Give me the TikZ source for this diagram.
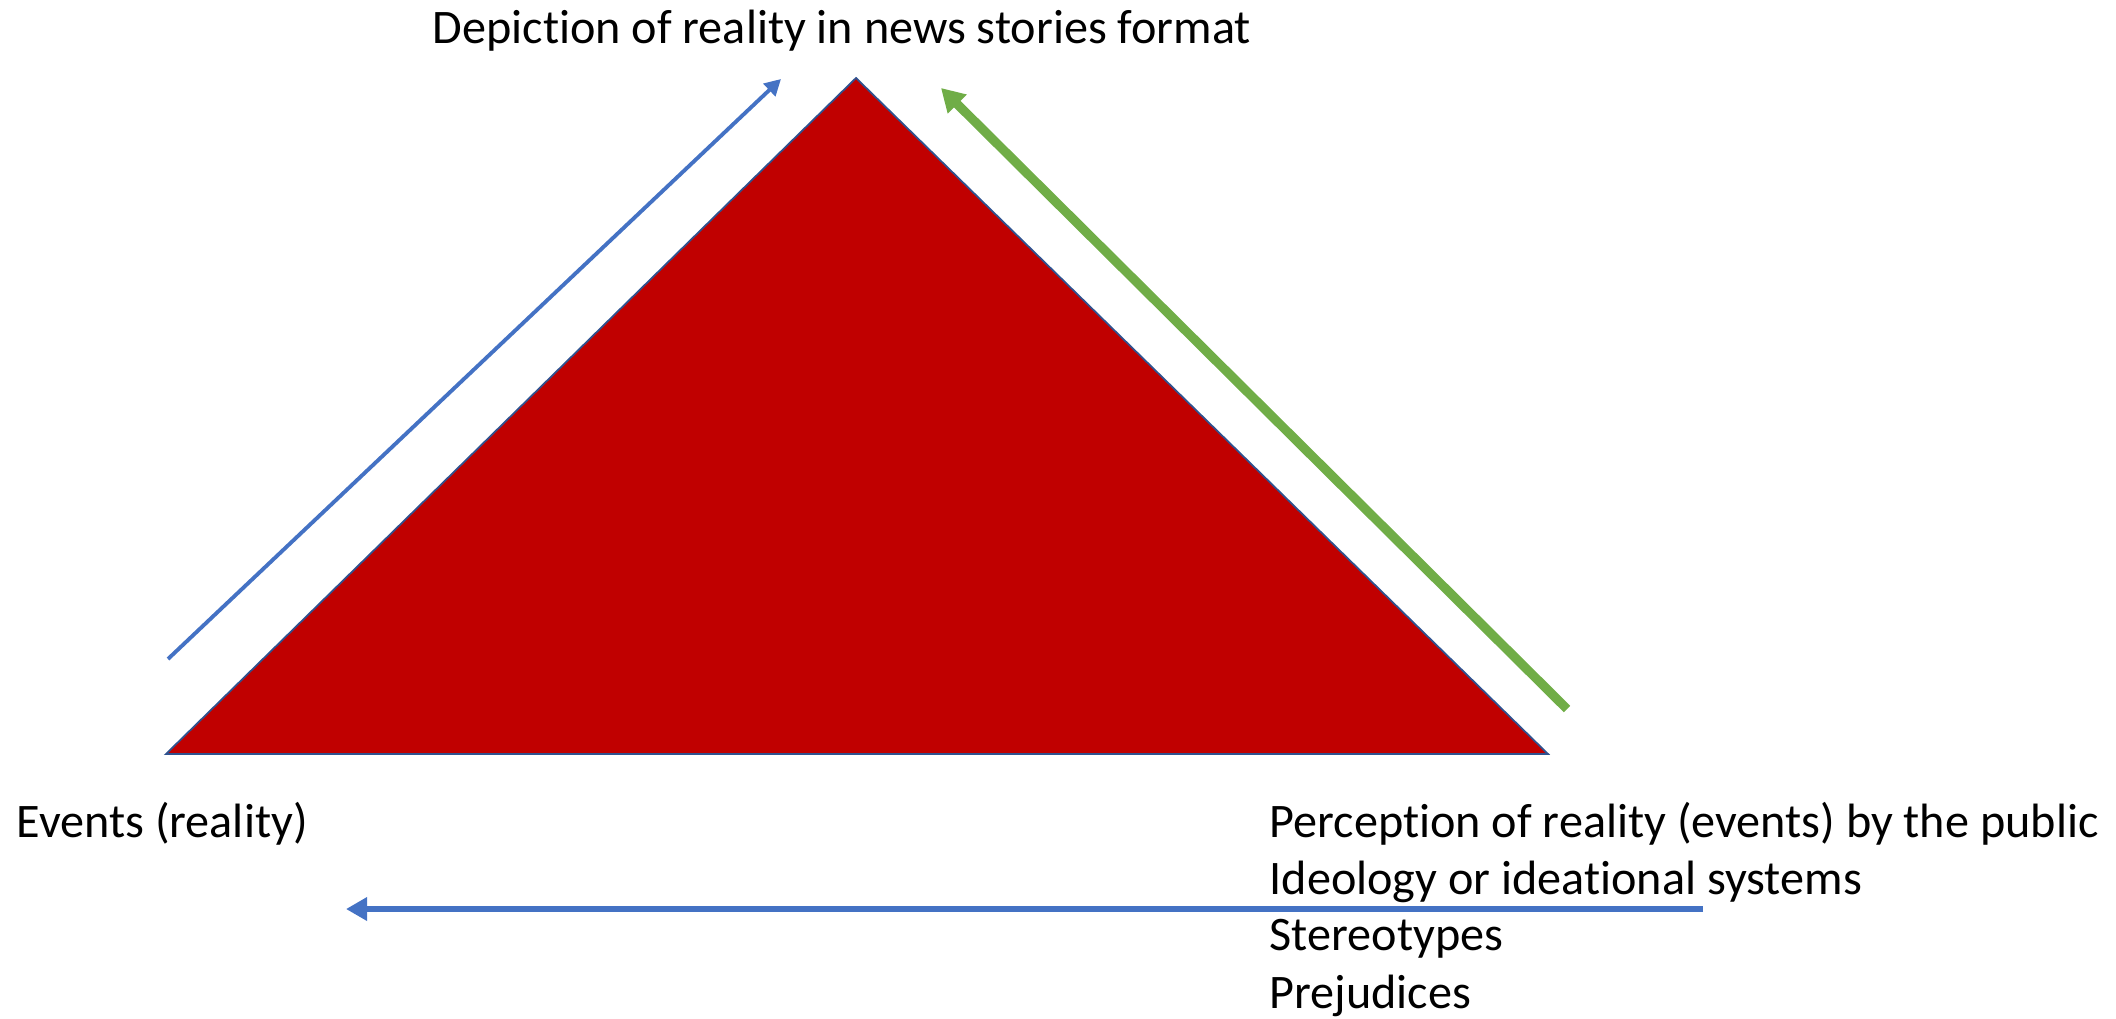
\documentclass[tikz,border=0pt]{standalone}
\usepackage{fontspec}
\setmainfont{Carlito}[Ligatures = NoCommon]
\usetikzlibrary{arrows.meta}

\definecolor{darkRed}{HTML}{C00000}
\definecolor{edgeBlue}{HTML}{2F528F}
\definecolor{arrowBlue}{HTML}{4472C4}
\definecolor{arrowGreen}{HTML}{70AD47}

\begin{document}
\begin{tikzpicture}[x = 0.01cm, y = -0.01cm]
\tikzstyle{triangleStyle} = [fill = darkRed, draw = edgeBlue, line width = 0.5pt, line join = miter]
\tikzstyle{thinBlue} = [draw = arrowBlue, line width = 1.1pt, -{Triangle[length = 4.6pt, width = 4.8pt]}]
\tikzstyle{thickGreen} = [draw = arrowGreen, line width = 2.6pt, -{Triangle[length = 6.5pt, width = 7.2pt]}]
\tikzstyle{thickBlue} = [draw = arrowBlue, line width = 1.9pt, -{Triangle[length = 6pt, width = 6.4pt]}]
\tikzstyle{labelStyle} = [inner sep = 0pt, anchor = base west, font = \fontsize{13.7}{16}\selectfont]
\useasboundingbox (0,0) rectangle (2116,1018);
% corners of the triangle
\coordinate (apex) at (856,78);
\coordinate (left) at (166,754);
\coordinate (right) at (1548,754);
\filldraw[triangleStyle] (left) -- (apex) -- (right) -- cycle;
% ends of the arrows
\coordinate (b0) at (168,659);
\coordinate (b1) at (781,79);
\coordinate (g0) at (1567,709);
\coordinate (g1) at (941,88);
\coordinate (h0) at (1703,909);
\coordinate (h1) at (346,909);
\draw[thinBlue] (b0) -- (b1);
\draw[thickGreen] (g0) -- (g1);
\draw[thickBlue] (h0) -- (h1);
% texts
\node[labelStyle] (depiction) at (432,43) {Depiction of reality in news stories format};
\node[labelStyle] (events) at (16,837) {Events (reality)};
\node[labelStyle] (perception) at (1269,837) {Perception of reality (events) by the public};
\node[labelStyle] (ideology) at (1269,894) {Ideology or ideational systems};
\node[labelStyle] (stereotypes) at (1269,950) {Stereotypes};
\node[labelStyle] (prejudices) at (1269,1008) {Prejudices};
\end{tikzpicture}
\end{document}
